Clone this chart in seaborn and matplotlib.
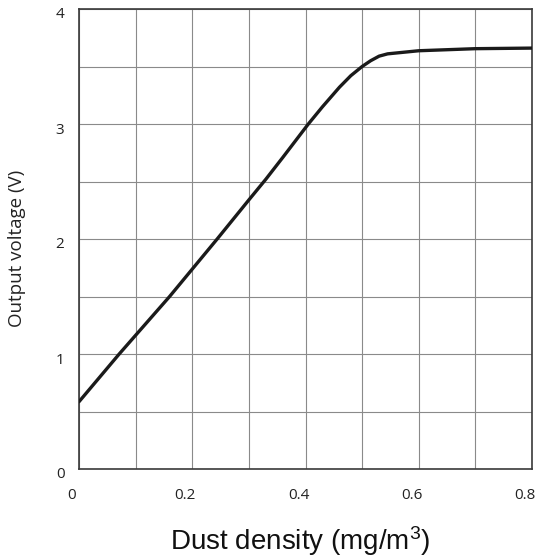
import numpy as np
import pandas as pd
import matplotlib
matplotlib.use("Agg")
import matplotlib.pyplot as plt
import matplotlib.transforms as mtransforms
import seaborn as sns

# Data
dust_density = [0, 0.071, 0.16, 0.244, 0.30, 0.33, 0.36, 0.405, 0.43, 0.46, 0.48,
                0.50, 0.515, 0.53, 0.545, 0.60, 0.70, 0.80]
output_voltage = [0.585, 1.0, 1.5, 2.0, 2.34, 2.52, 2.71, 3.0, 3.15, 3.32, 3.42,
                  3.50, 3.55, 3.59, 3.61, 3.637, 3.655, 3.66]
x_ticks = [0, 0.2, 0.4, 0.6, 0.8]
x_tick_labels = ["0", "0.2", "0.4", "0.6", "0.8"]
y_ticks = [0, 1, 2, 3, 4]
y_tick_labels = ["0", "1", "2", "3", "4"]

df = pd.DataFrame({"density": dust_density, "voltage": output_voltage})

sns.set_style("white")
plt.rcParams["font.family"] = ["Open Sans", "DejaVu Sans"]
plt.rcParams["mathtext.fontset"] = "custom"
plt.rcParams["mathtext.rm"] = "Liberation Sans"
plt.rcParams["mathtext.it"] = "Liberation Sans"

fig = plt.figure(figsize=(5.38, 5.6), dpi=100)
ax = fig.add_axes([79 / 538, 1 - 469 / 560, (532 - 79) / 538, (469 - 9) / 560])

sns.lineplot(data=df, x="density", y="voltage", ax=ax, color="#1a1a1a",
             linewidth=2.4, zorder=3, solid_joinstyle="round", solid_capstyle="round")

ax.set_xlim(0, 0.8)
ax.set_ylim(0, 4)

# Grid every 0.1 / 0.5; labels only at the major values
ax.set_xticks(x_ticks)
ax.set_xticklabels(x_tick_labels)
ax.set_xticks(np.arange(0.1, 0.8, 0.2), minor=True)
ax.set_yticks(y_ticks)
ax.set_yticklabels(y_tick_labels)
ax.set_yticks(np.arange(0.5, 4.0, 1.0), minor=True)

ax.grid(True, which="both", color="#8a8a8a", linewidth=0.8, zorder=0)
ax.set_axisbelow(True)
ax.tick_params(axis="both", which="both", length=0, labelsize=11, colors="#222222")
ax.tick_params(axis="x", pad=14)
ax.tick_params(axis="y", pad=10.5)

dx = mtransforms.ScaledTranslation(-7 / 100, 0, fig.dpi_scale_trans)
dy = mtransforms.ScaledTranslation(0, -4 / 100, fig.dpi_scale_trans)
for lbl in ax.get_xticklabels():
    lbl.set_transform(lbl.get_transform() + dx)
for lbl in ax.get_yticklabels():
    lbl.set_transform(lbl.get_transform() + dy)

for s in ax.spines.values():
    s.set_color("#3a3a3a")
    s.set_linewidth(1.2)
    s.set_visible(True)

ax.set_xlabel("")
ax.set_ylabel("")
fig.text(17.5 / 538, 1 - 248 / 560, "Output voltage (V)", rotation=90, ha="center", va="center",
         fontsize=13.5, color="#222222")
fig.text(300 / 538, 1 - 541 / 560, "Dust density (mg/m$^3$)", ha="center", va="center",
         fontsize=20, family="Liberation Sans", color="#111111")

fig.savefig("out.png", dpi=100)
